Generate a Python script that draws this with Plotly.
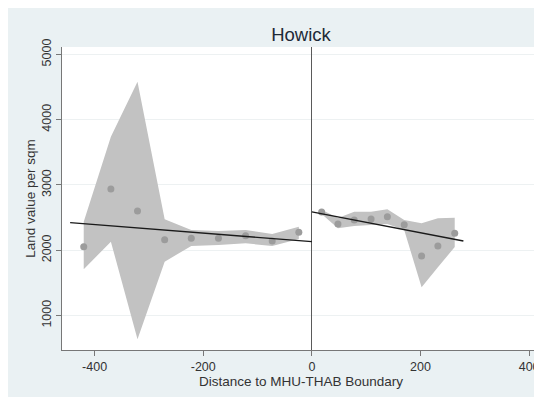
import plotly.graph_objects as go

# ---- data ----
left_x = [-420, -370, -321, -271, -222, -172, -122, -73, -24]
left_y = [2055, 2940, 2600, 2162, 2184, 2184, 2224, 2142, 2276]
left_hi = [2438, 3740, 4580, 2475, 2311, 2296, 2311, 2250, 2361]
left_lo = [1709, 2132, 637, 1826, 2066, 2081, 2107, 2066, 2173]

right_x = [18, 48, 78, 109, 139, 170, 202, 232, 263]
right_y = [2587, 2403, 2464, 2479, 2515, 2392, 1913, 2066, 2260]
right_hi = [2620, 2495, 2591, 2591, 2628, 2464, 2413, 2490, 2500]
right_lo = [2555, 2337, 2372, 2388, 2403, 2311, 1433, 1740, 2050]

left_fit_x = [-445, 0]
left_fit_y = [2423, 2132]
right_fit_x = [0, 279]
right_fit_y = [2587, 2142]

x_ticks = [-400, -200, 0, 200, 400]
y_ticks = [1000, 2000, 3000, 4000, 5000]

BAND = "#c2c2c2"
DOT = "#9c9c9c"
LINE = "#1a1a1a"
BG = "#eaf1f3"

fig = go.Figure()

for xs, hi, lo in [(left_x, left_hi, left_lo), (right_x, right_hi, right_lo)]:
    fig.add_trace(go.Scatter(
        x=xs + xs[::-1], y=hi + lo[::-1], fill="toself", fillcolor=BAND,
        line=dict(width=0, color=BAND), mode="lines", hoverinfo="skip",
        showlegend=False))

for xs, ys in [(left_x, left_y), (right_x, right_y)]:
    fig.add_trace(go.Scatter(
        x=xs, y=ys, mode="markers",
        marker=dict(size=7, color=DOT, line=dict(width=0)),
        showlegend=False))

for xs, ys in [(left_fit_x, left_fit_y), (right_fit_x, right_fit_y)]:
    fig.add_trace(go.Scatter(
        x=xs, y=ys, mode="lines", line=dict(color=LINE, width=1.3),
        showlegend=False))

W, H = 542, 397
L, R, T, B = 54, 10, 39, 55

fig.update_layout(
    width=W, height=H,
    margin=dict(l=L, r=R, t=T, b=B),
    paper_bgcolor=BG, plot_bgcolor="white",
    font=dict(family="Liberation Sans, Arial, sans-serif", size=12, color="#333333"),
    title=dict(text="Howick", x=0.5, xref="paper", xanchor="center",
               y=1 - 26.5 / H, yref="container", yanchor="middle",
               font=dict(size=18.5, color="#1e2a38")),
    xaxis=dict(range=[-460, 420], tickvals=x_ticks, ticktext=[str(v) for v in x_ticks],
               showgrid=False, zeroline=True, zerolinecolor="#5a5a5a", zerolinewidth=1.3,
               showline=True, linecolor="#777777", linewidth=1,
               ticks="outside", ticklen=5, tickcolor="#777777",
               tickfont=dict(size=12.5, color="#333333"),
               title=dict(text="Distance to MHU-THAB Boundary", standoff=0,
                          font=dict(size=13.5, color="#333333"))),
    yaxis=dict(range=[473, 5113], tickvals=y_ticks, ticktext=[str(v) for v in y_ticks],
               showgrid=True, gridcolor="#edf1f2", gridwidth=1, zeroline=False,
               showline=True, linecolor="#777777", linewidth=1,
               ticks="outside", ticklen=5, tickcolor="#777777", tickangle=-90,
               tickfont=dict(size=12.5, color="#333333"),
               title=dict(text="Land value per sqm", standoff=1,
                          font=dict(size=13.5, color="#333333"))),
)

fig.write_html("out.html")
